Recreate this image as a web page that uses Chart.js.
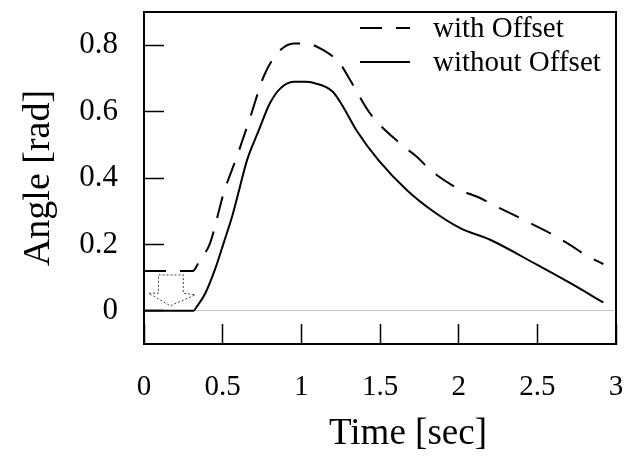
<!DOCTYPE html>
<html>
<head>
<meta charset="utf-8">
<script src="https://cdn.jsdelivr.net/npm/chart.js@4"></script>
<style>
  html, body { margin: 0; padding: 0; background: #fff; }
</style>
</head>
<body>
<canvas id="angleChart" width="624" height="459"></canvas>
<script>
// values
let timeWith  = [0, 0.31, 0.35, 0.42, 0.506, 0.59, 0.676, 0.76, 0.846, 0.952, 1.03, 1.14, 1.245, 1.31, 1.436, 1.627, 1.734, 1.82, 2.01, 2.126, 2.24, 2.35, 2.476, 2.58, 2.71, 2.806, 2.92]
let angleWith = [0.12, 0.12, 0.148, 0.204, 0.354, 0.464, 0.584, 0.705, 0.775, 0.805, 0.805, 0.785, 0.745, 0.695, 0.595, 0.504, 0.464, 0.424, 0.364, 0.342, 0.314, 0.289, 0.259, 0.234, 0.198, 0.168, 0.141]

let timeWithout  = [0, 0.315, 0.336, 0.39, 0.45, 0.506, 0.56, 0.61, 0.655, 0.73, 0.80, 0.867, 0.952, 1.03, 1.075, 1.2, 1.266, 1.35, 1.49, 1.67, 1.84, 2.01, 2.2, 2.5, 2.71, 2.92]
let angleWithout = [0, 0, 0.013, 0.053, 0.123, 0.204, 0.284, 0.374, 0.454, 0.544, 0.625, 0.67, 0.69, 0.69, 0.687, 0.66, 0.614, 0.544, 0.454, 0.364, 0.299, 0.249, 0.214, 0.138, 0.083, 0.025]

let xTicks = [0, 0.5, 1, 1.5, 2, 2.5, 3]
let yTicks = [0, 0.2, 0.4, 0.6, 0.8]

// hollow arrow showing the offset removal (time, angle)
let arrowShape = [[0.092, 0.108], [0.25, 0.108], [0.25, 0.053], [0.326, 0.048], [0.167, 0.015], [0.029, 0.053], [0.092, 0.053]]

const serif = "'Liberation Serif', 'Times New Roman', serif"

function toPoints(xs, ys) {
  return xs.map((x, i) => ({x: x, y: ys[i]}))
}

// frame, in-plot legend, arrow and the x title
const decorations = {
  id: 'decorations',
  afterDatasetsDraw(chart) {
    const ctx = chart.ctx
    const a = chart.chartArea
    const xs = chart.scales.x, ys = chart.scales.y

    ctx.save()
    // arrow
    ctx.strokeStyle = '#444'
    ctx.lineWidth = 1
    ctx.setLineDash([2, 2])
    ctx.beginPath()
    arrowShape.forEach((p, i) => {
      const px = xs.getPixelForValue(p[0]), py = ys.getPixelForValue(p[1])
      if (i === 0) ctx.moveTo(px, py); else ctx.lineTo(px, py)
    })
    ctx.closePath()
    ctx.stroke()
    ctx.setLineDash([])

    // box around the plot
    ctx.strokeStyle = '#000'
    ctx.lineWidth = 2
    ctx.strokeRect(a.left, a.top, a.right - a.left, a.bottom - a.top)

    // legend
    ctx.font = '29px ' + serif
    ctx.fillStyle = '#000'
    ctx.textBaseline = 'alphabetic'
    chart.data.datasets.forEach((ds, i) => {
      const ly = 28 + i * 34
      ctx.strokeStyle = '#000'
      ctx.lineWidth = ds.borderWidth
      ctx.setLineDash(ds.borderDash || [])
      ctx.beginPath()
      ctx.moveTo(360, ly)
      ctx.lineTo(410, ly)
      ctx.stroke()
      ctx.setLineDash([])
      ctx.fillText(ds.label, 433, ly + 9)
    })

    // x axis title
    ctx.font = '37px ' + serif
    ctx.textAlign = 'center'
    ctx.textBaseline = 'middle'
    ctx.fillText('Time [sec]', (a.left + a.right) / 2 + 28, 434)
    ctx.restore()
  }
}

let angleChart = document.getElementById('angleChart').getContext('2d')

let chart = new Chart(angleChart, {
  type: 'line',
  data: {
    datasets: [{
      label: 'with Offset',
      data: toPoints(timeWith, angleWith),
      borderColor: '#000',
      borderWidth: 2,
      borderDash: [22, 14],
      pointRadius: 0,
      cubicInterpolationMode: 'monotone',
      fill: false
    }, {
      label: 'without Offset',
      data: toPoints(timeWithout, angleWithout),
      borderColor: '#000',
      borderWidth: 2,
      pointRadius: 0,
      cubicInterpolationMode: 'monotone',
      fill: false
    }]
  },
  options: {
    responsive: false,
    animation: false,
    layout: { padding: { left: 0, right: 8, top: 12, bottom: 0 } },
    plugins: { legend: { display: false }, tooltip: { enabled: false } },
    scales: {
      x: {
        type: 'linear',
        min: 0,
        max: 3,
        afterBuildTicks: axis => { axis.ticks = xTicks.map(v => ({value: v})) },
        afterFit: axis => { axis.height = 115; axis.paddingLeft = 0; axis.paddingRight = 0 },
        ticks: {
          color: '#000',
          font: { family: serif, size: 29 },
          padding: 46,
          maxRotation: 0,
          callback: v => String(v)
        },
        grid: { color: 'rgba(0,0,0,0)', tickColor: '#000', tickLength: -20, tickWidth: 1.5 },
        border: { display: true, color: '#000', width: 2 }
      },
      y: {
        min: -0.1,
        max: 0.9,
        afterBuildTicks: axis => { axis.ticks = yTicks.map(v => ({value: v})) },
        afterFit: axis => { axis.width = 144; axis.paddingTop = 0; axis.paddingBottom = 0 },
        ticks: {
          color: '#000',
          font: { family: serif, size: 31 },
          padding: 46,
          callback: v => String(v)
        },
        grid: {
          color: c => (c.tick && c.tick.value === 0) ? '#c4c4c4' : 'rgba(0,0,0,0)',
          tickColor: '#000',
          tickLength: -20,
          tickWidth: 1.5
        },
        border: { display: true, color: '#000', width: 2 },
        title: {
          display: true,
          text: 'Angle [rad]',
          color: '#000',
          font: { family: serif, size: 38 },
          padding: { top: 16, bottom: 0 }
        }
      }
    }
  },
  plugins: [decorations]
})
</script>
</body>
</html>
